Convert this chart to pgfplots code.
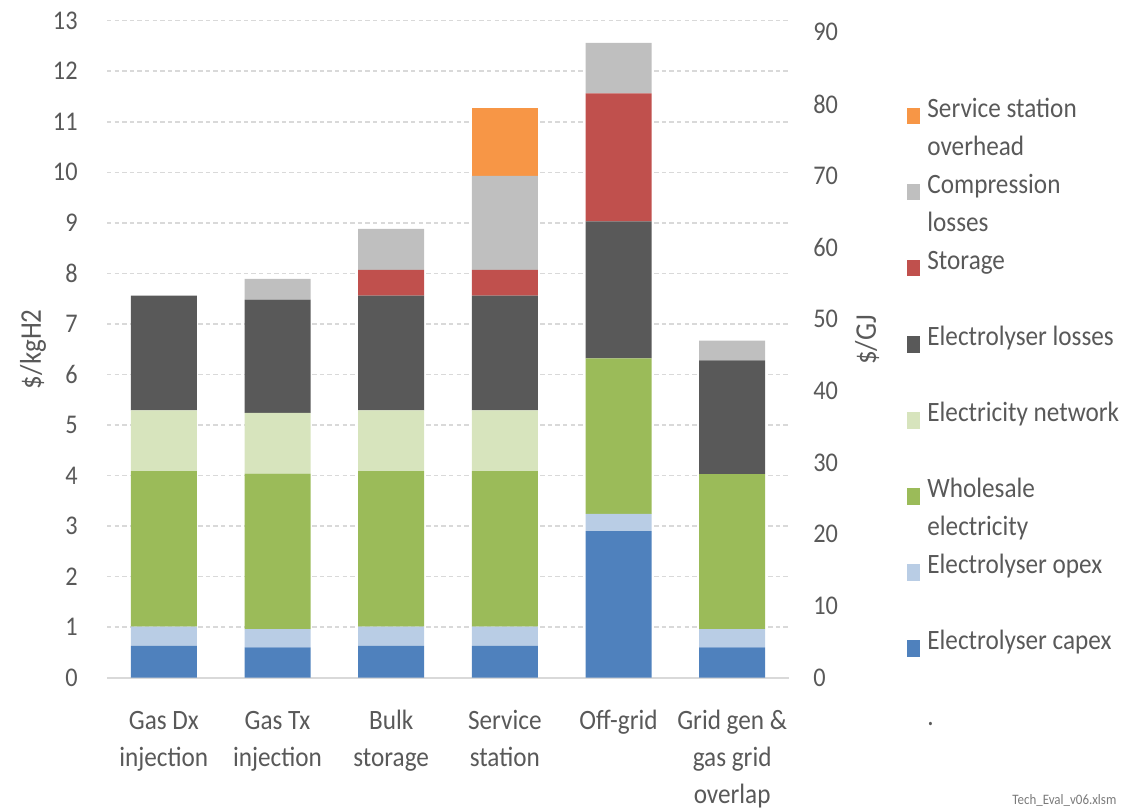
\documentclass[border=0pt]{standalone}
\usepackage{fontspec}
\setmainfont{Carlito}[FakeStretch=0.9]
\usepackage{pgfplots}
\usepackage{pgfplotstable}
\pgfplotsset{compat=1.18}
\definecolor{capex}{HTML}{4F81BD}
\definecolor{opex}{HTML}{B9CDE5}
\definecolor{whole}{HTML}{9BBB59}
\definecolor{netw}{HTML}{D7E4BD}
\definecolor{eloss}{HTML}{595959}
\definecolor{stor}{HTML}{C0504D}
\definecolor{comp}{HTML}{BFBFBF}
\definecolor{ovh}{HTML}{F79646}
\definecolor{txt}{HTML}{595959}
\definecolor{gridc}{HTML}{D9D9D9}
\pgfplotstableread{
x capex opex whole netw eloss stor comp ovh
0 0.63 0.38 3.08 1.20 2.27 0    0    0
1 0.60 0.36 3.08 1.20 2.24 0    0.41 0
2 0.63 0.38 3.08 1.20 2.27 0.51 0.81 0
3 0.63 0.38 3.08 1.20 2.27 0.51 1.86 1.35
4 2.90 0.34 3.08 0    2.71 2.53 1.00 0
5 0.60 0.36 3.07 0    2.25 0    0.39 0
}\datatable
\pgfplotsset{
  sq/.style={legend image code/.code={\fill[fill=#1, draw=none] (0pt,0pt) rectangle (6.65pt,8.35pt);}},
}
\begin{document}
\begin{tikzpicture}
\useasboundingbox (-53.5pt,-65.65pt) rectangle (518.5pt,338.85pt);
\begin{axis}[
  at={(0,0)}, anchor=south west,
  scale only axis, width=341pt, height=328.5pt,
  ybar stacked, bar width=33pt,
  xmin=-0.5, xmax=5.5, ymin=0, ymax=13,
  xtick={0,...,5},
  xticklabels={{\strut Gas Dx\\injection},{\strut Gas Tx\\injection},{\strut Bulk\\storage},{\strut Service\\station},{\strut Off-grid},{\strut Grid gen \&\\gas grid\\overlap}},
  ytick={0,...,13},
  axis x line*=bottom, axis y line*=left,
  x axis line style={draw=gridc, line width=0.8pt},
  y axis line style={draw=none},
  major tick length=0pt,
  ymajorgrids,
  grid style={draw=gridc, line width=0.8pt, dash pattern=on 2.2pt off 1.6pt},
  /pgf/number format/assume math mode=true,
  yticklabel style={font=\fontsize{13.5}{16}\selectfont, text=txt, inner sep=0pt, xshift=-14.5pt},
  xticklabel style={font=\fontsize{14}{18.5}\selectfont, text=txt, inner sep=0pt, align=center, yshift=-12.6pt},
  ylabel={\$/kgH2},
  ylabel style={at={(axis description cs:-0.1085,0.5)}, anchor=center, font=\fontsize{15}{18}\selectfont, text=txt},
  legend cell align=left,
  legend style={at={(axis description cs:1.1726,0.8945)}, anchor=north west, draw=none, fill=none,
    inner sep=0pt, row sep=4.25pt,
    nodes={inner sep=0pt, text=txt, font=\fontsize{14}{19}\selectfont, align=left},
    /tikz/every odd column/.append style={column sep=3.5pt}},
]
\addlegendimage{sq=ovh}\addlegendentry{\strut Service station\\\strut overhead}
\addlegendimage{sq=comp}\addlegendentry{\strut Compression\\\strut losses}
\addlegendimage{sq=stor}\addlegendentry{\strut Storage\\\strut}
\addlegendimage{sq=eloss}\addlegendentry{\strut Electrolyser losses\\\strut}
\addlegendimage{sq=netw}\addlegendentry{\strut Electricity network\\\strut}
\addlegendimage{sq=whole}\addlegendentry{\strut Wholesale\\\strut electricity}
\addlegendimage{sq=opex}\addlegendentry{\strut Electrolyser opex\\\strut}
\addlegendimage{sq=capex}\addlegendentry{\strut Electrolyser capex\\\strut}
\addlegendimage{legend image code/.code={}}\addlegendentry{\strut .\\\strut}
\addplot[fill=capex, draw=none] table[x=x,y=capex]{\datatable};
\addplot[fill=opex, draw=none] table[x=x,y=opex]{\datatable};
\addplot[fill=whole, draw=none] table[x=x,y=whole]{\datatable};
\addplot[fill=netw, draw=none] table[x=x,y=netw]{\datatable};
\addplot[fill=eloss, draw=none] table[x=x,y=eloss]{\datatable};
\addplot[fill=stor, draw=none] table[x=x,y=stor]{\datatable};
\addplot[fill=comp, draw=none] table[x=x,y=comp]{\datatable};
\addplot[fill=ovh, draw=none] table[x=x,y=ovh]{\datatable};
\end{axis}
\begin{axis}[
  at={(0,0)}, anchor=south west,
  scale only axis, width=341pt, height=328.5pt,
  xmin=-0.5, xmax=5.5, ymin=0, ymax=91.6,
  axis x line=none, axis y line*=right,
  y axis line style={draw=none},
  major tick length=0pt,
  ytick={0,10,...,90},
  /pgf/number format/assume math mode=true,
  yticklabel style={font=\fontsize{13.5}{16}\selectfont, text=txt, inner sep=0pt, anchor=west, xshift=12pt},
  ylabel={\$/GJ},
  ylabel style={at={(axis description cs:1.1144,0.514)}, anchor=center, font=\fontsize{15}{18}\selectfont, text=txt},
]
\end{axis}
\node[anchor=base west, inner sep=0pt, font=\fontsize{7.2}{8}\selectfont, text=txt!80] at (452.5pt,-63.5pt) {Tech\_Eval\_v06.xlsm};
\end{tikzpicture}
\end{document}
